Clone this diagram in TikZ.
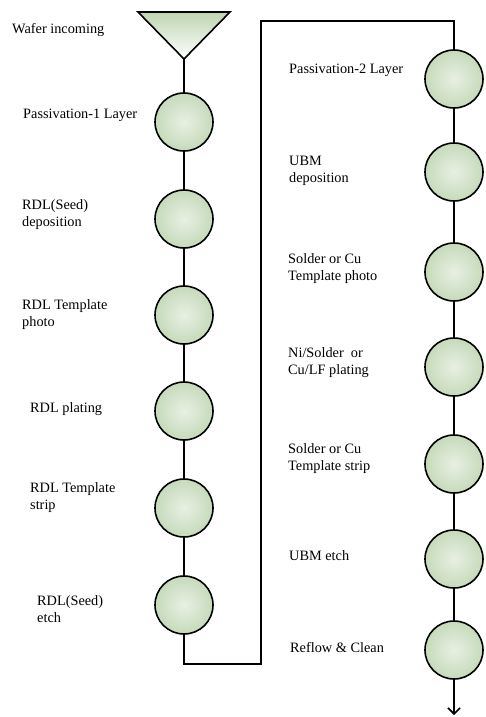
\documentclass[tikz,border=0pt]{standalone}
\usepackage{fontspec}
\setmainfont{Liberation Serif}
\usepackage{tikz}
\usetikzlibrary{arrows.meta}

\definecolor{ballin}{HTML}{E8F0E3}
\definecolor{ballout}{HTML}{C6DABB}
\definecolor{tritop}{HTML}{BED5B2}

\tikzset{
    stepball/.style={circle,draw,line width=1.6pt,minimum size=58pt,inner sep=0pt,inner color=ballin,outer color=ballout},
    lbl/.style={anchor=west,align=left,inner sep=0pt,font=\fontsize{14.3}{17}\selectfont},
    link/.style={line width=1.8pt},
    backline/.style={line width=2.8pt}
}

\begin{document}
\begin{tikzpicture}[x=1pt,y=-1pt]
    \useasboundingbox (0,0) rectangle (485,717);

    % incoming wafer
    \draw[line width=1.6pt,top color=tritop,bottom color=white] (138,12) -- (230,12) -- (184,59) -- cycle;
    \coordinate (tip) at (184,59);

    % left column
    \foreach \y [count=\i] in {122,219,315,411,508,605}
        \node[stepball] (l\i) at (184,\y) {};
    % right column
    \foreach \y [count=\i] in {79,172,272,367,464,559,650}
        \node[stepball] (r\i) at (454,\y) {};

    \coordinate (bl) at (261,664);
    \coordinate (tl) at (261,21);
    \coordinate (out) at (454,715);

    \draw[link] (tip) -- (l1);
    \foreach \i [evaluate=\i as \j using int(\i+1)] in {1,...,5}
        \draw[link] (l\i) -- (l\j);
    \foreach \i [evaluate=\i as \j using int(\i+1)] in {1,...,6}
        \draw[link] (r\i) -- (r\j);
    \draw[backline] (l6) |- (bl) -- (tl) -| (r1);
    \draw[link,-{Straight Barb[length=6pt,width=12pt,line width=1.6pt]}] (r7) -- (out);

    % labels
    \node[lbl] (t0) at (12,30) {Wafer incoming};
    \node[lbl] (t1) at (23,115) {Passivation-1 Layer};
    \node[lbl] (t2) at (22,215) {RDL(Seed)\\deposition};
    \node[lbl] (t3) at (22,315) {RDL Template\\photo};
    \node[lbl] (t4) at (30,409) {RDL plating};
    \node[lbl] (t5) at (30,498) {RDL Template\\strip};
    \node[lbl] (t6) at (37,609) {RDL(Seed)\\etch};

    \node[lbl] (s1) at (289,70) {Passivation-2 Layer};
    \node[lbl] (s2) at (289,171) {UBM\\deposition};
    \node[lbl] (s3) at (288,269) {Solder or Cu\\Template photo};
    \node[lbl] (s4) at (288,363) {Ni/Solder~ or\\Cu/LF plating};
    \node[lbl] (s5) at (288,459) {Solder or Cu\\Template strip};
    \node[lbl] (s6) at (289,556) {UBM etch};
    \node[lbl] (s7) at (290,648) {Reflow \& Clean};
\end{tikzpicture}
\end{document}
